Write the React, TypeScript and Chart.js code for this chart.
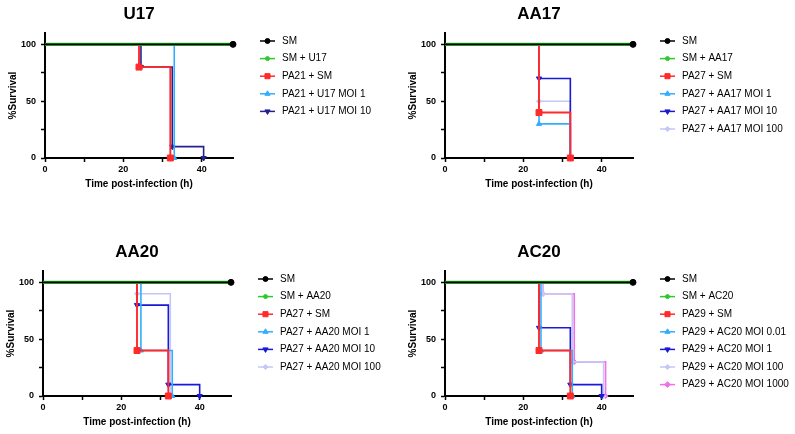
import { useEffect, useRef } from 'react'
import { Chart, registerables } from 'chart.js'
import { drawPoint } from 'chart.js/helpers'

Chart.register(...registerables)

const FONT = "'Liberation Sans', Arial, Helvetica, sans-serif"

// axis ticks (shared by all four panels)
const xTicks = [0, 10, 20, 30, 40]
const yTicks = [0, 25, 50, 75, 100]

// U17
const u17Labels = ['SM', 'SM + U17', 'PA21 + SM', 'PA21 + U17 MOI 1', 'PA21 + U17 MOI 10']
const u17Times = [[0, 48], [0, 48], [0, 24, 32], [0, 33], [0, 24.5, 32.5, 40.5]]
const u17Survival = [[100, 100], [100, 100], [100, 80, 0], [100, 0], [100, 80, 10, 0]]

// AA17
const aa17Labels = ['SM', 'SM + AA17', 'PA27 + SM', 'PA27 + AA17 MOI 1', 'PA27 + AA17 MOI 10', 'PA27 + AA17 MOI 100']
const aa17Times = [[0, 48], [0, 48], [0, 24, 32], [0, 24, 32], [0, 24, 32], [0, 24, 32]]
const aa17Survival = [[100, 100], [100, 100], [100, 40, 0], [100, 30, 0], [100, 70, 0], [100, 50, 0]]

// AA20
const aa20Labels = ['SM', 'SM + AA20', 'PA27 + SM', 'PA27 + AA20 MOI 1', 'PA27 + AA20 MOI 10', 'PA27 + AA20 MOI 100']
const aa20Times = [[0, 48], [0, 48], [0, 24, 32], [0, 25, 33], [0, 24, 32, 40], [0, 24, 32.5]]
const aa20Survival = [[100, 100], [100, 100], [100, 40, 0], [100, 40, 0], [100, 80, 10, 0], [100, 90, 0]]

// AC20
const ac20Labels = ['SM', 'SM + AC20', 'PA29 + SM', 'PA29 + AC20 MOI 0.01', 'PA29 + AC20 MOI 1', 'PA29 + AC20 MOI 100', 'PA29 + AC20 MOI 1000']
const ac20Times = [[0, 48], [0, 48], [0, 24, 32], [0, 24.5, 32.5], [0, 24, 32, 40], [0, 25, 32.5, 40.5], [0, 25, 33, 41]]
const ac20Survival = [[100, 100], [100, 100], [100, 40, 0], [100, 40, 0], [100, 60, 10, 0], [100, 90, 30, 0], [100, 90, 30, 0]]

type Style = { color: string; pointStyle: string; radius: number; legendRadius: number; rotation?: number; width: number }

const styles: Record<string, Style> = {
  sm: { color: '#000000', pointStyle: 'circle', radius: 3, legendRadius: 2.5, width: 1.8 },
  phage: { color: '#2ec92e', pointStyle: 'circle', radius: 2.2, legendRadius: 2, width: 3.4 },
  pa: { color: '#ff2a2a', pointStyle: 'rect', radius: 4.2, legendRadius: 3.6, width: 1.9 },
  light: { color: '#33adff', pointStyle: 'triangle', radius: 3, legendRadius: 3, width: 1.6 },
  navy: { color: '#23238f', pointStyle: 'triangle', radius: 3, legendRadius: 3, rotation: 180, width: 1.6 },
  blue: { color: '#1a1ad6', pointStyle: 'triangle', radius: 3, legendRadius: 3, rotation: 180, width: 1.6 },
  lavender: { color: '#c6c6f7', pointStyle: 'rectRot', radius: 2.6, legendRadius: 2.6, width: 1.6 },
  pink: { color: '#f46ee8', pointStyle: 'rectRot', radius: 2.6, legendRadius: 2.8, width: 1.6 },
}

const sideLegend = {
  id: 'sideLegend',
  afterDraw(chart: any, _args: any, opts: any) {
    const { ctx, chartArea } = chart
    ctx.save()
    ctx.fillStyle = '#000'
    ctx.font = `bold 17px ${FONT}`
    ctx.textAlign = 'center'
    ctx.textBaseline = 'middle'
    ctx.fillText(opts.title, (chartArea.left + chartArea.right) / 2, 14)

    const x0 = chartArea.right + 27
    chart.data.datasets.forEach((ds: any, i: number) => {
      const y = 41 + i * 17.6
      ctx.strokeStyle = ds.borderColor
      ctx.lineWidth = 1.5
      ctx.beginPath()
      ctx.moveTo(x0, y)
      ctx.lineTo(x0 + 15, y)
      ctx.stroke()
      ctx.fillStyle = ds.borderColor
      ctx.lineWidth = 1
      drawPoint(ctx, { pointStyle: ds.pointStyle, rotation: ds.pointRotation || 0, radius: ds.legendRadius, borderWidth: 1 }, x0 + 7.5, y)
      ctx.fillStyle = '#000'
      ctx.font = `10px ${FONT}`
      ctx.textAlign = 'left'
      ctx.fillText(ds.label, x0 + 22, y)
    })
    ctx.restore()
  },
}

interface PanelProps {
  title: string
  labels: string[]
  times: number[][]
  survival: number[][]
  styleKeys: string[]
}

function SurvivalPanel({ title, labels, times, survival, styleKeys }: PanelProps) {
  const canvasRef = useRef<HTMLCanvasElement>(null)

  useEffect(() => {
    if (!canvasRef.current) return

    const datasets = labels.map((label, i) => {
      const s = styles[styleKeys[i]]
      return {
        label,
        data: times[i].map((t, j) => ({ x: t, y: survival[i][j] })),
        stepped: 'before',
        borderColor: s.color,
        backgroundColor: s.color,
        pointBackgroundColor: s.color,
        pointBorderColor: s.color,
        pointBorderWidth: 1,
        borderWidth: s.width,
        pointStyle: s.pointStyle,
        pointRotation: s.rotation || 0,
        pointRadius: (c: any) => (c.dataIndex === 0 ? 0 : s.radius),
        legendRadius: s.legendRadius,
        clip: false,
        fill: false,
      }
    })

    const tickFont = { family: FONT, size: 9, weight: 'bold' as const }
    const titleFont = { family: FONT, size: 10, weight: 'bold' as const }

    const config: any = {
      type: 'line',
      data: { datasets },
      options: {
        animation: false,
        responsive: true,
        maintainAspectRatio: false,
        events: [],
        layout: { padding: { left: 0, right: 164, top: 33, bottom: 0 } },
        plugins: {
          legend: { display: false },
          title: { display: false },
          tooltip: { enabled: false },
          sideLegend: { title },
        },
        scales: {
          x: {
            type: 'linear',
            min: 0,
            max: 48,
            afterBuildTicks: (s: any) => { s.ticks = xTicks.map(v => ({ value: v })) },
            afterFit: (s: any) => { s.height = 38 },
            ticks: {
              autoSkip: false,
              maxRotation: 0,
              padding: 2,
              color: '#000',
              font: tickFont,
              callback: (v: number) => (v % 20 === 0 ? String(v) : ''),
            },
            grid: { drawOnChartArea: false, drawTicks: true, tickLength: 4, tickColor: '#000', tickWidth: 1.5 },
            border: { display: true, color: '#000', width: 2 },
            title: { display: true, text: 'Time post-infection (h)', color: '#000', font: titleFont, padding: { top: 0, bottom: 6 } },
          },
          y: {
            type: 'linear',
            min: 0,
            max: 110,
            afterBuildTicks: (s: any) => { s.ticks = yTicks.map(v => ({ value: v })) },
            afterFit: (s: any) => { s.width = 45 },
            ticks: {
              autoSkip: false,
              padding: 5,
              color: '#000',
              font: tickFont,
              callback: (v: number) => (v % 50 === 0 ? String(v) : ''),
            },
            grid: { drawOnChartArea: false, drawTicks: true, tickLength: 4, tickColor: '#000', tickWidth: 1.5 },
            border: { display: true, color: '#000', width: 2 },
            title: { display: true, text: '%Survival', color: '#000', font: titleFont, padding: { top: 7, bottom: 0 } },
          },
        },
      },
      plugins: [sideLegend],
    }

    const chart = new Chart(canvasRef.current, config)
    return () => chart.destroy()
  }, [title, labels, times, survival, styleKeys])

  return <canvas ref={canvasRef} />
}

const panelBox = (left: number, top: number): React.CSSProperties => ({
  position: 'absolute',
  left,
  top,
  width: 397,
  height: 196,
})

export default function App() {
  return (
    <div style={{ position: 'fixed', left: 0, top: 0, width: 795, height: 434, overflow: 'hidden', background: '#fff' }}>
      <div style={panelBox(0, 0)}>
        <SurvivalPanel title="U17" labels={u17Labels} times={u17Times} survival={u17Survival}
          styleKeys={['sm', 'phage', 'pa', 'light', 'navy']} />
      </div>
      <div style={panelBox(400, 0)}>
        <SurvivalPanel title="AA17" labels={aa17Labels} times={aa17Times} survival={aa17Survival}
          styleKeys={['sm', 'phage', 'pa', 'light', 'blue', 'lavender']} />
      </div>
      <div style={panelBox(-2, 238)}>
        <SurvivalPanel title="AA20" labels={aa20Labels} times={aa20Times} survival={aa20Survival}
          styleKeys={['sm', 'phage', 'pa', 'light', 'blue', 'lavender']} />
      </div>
      <div style={panelBox(400, 238)}>
        <SurvivalPanel title="AC20" labels={ac20Labels} times={ac20Times} survival={ac20Survival}
          styleKeys={['sm', 'phage', 'pa', 'light', 'blue', 'lavender', 'pink']} />
      </div>
    </div>
  )
}
